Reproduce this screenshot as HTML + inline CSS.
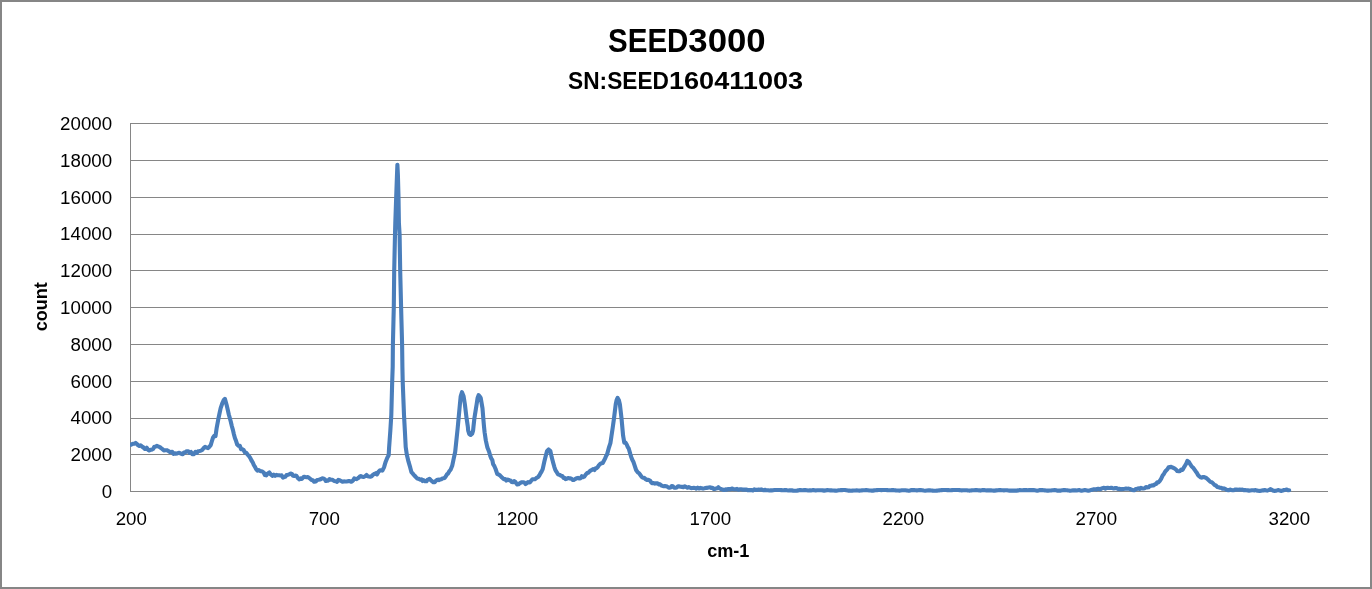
<!DOCTYPE html>
<html lang="en"><head><meta charset="utf-8"><title>SEED3000</title>
<style>html,body{margin:0;padding:0;background:#fff}body{width:1372px;height:589px;overflow:hidden}svg{display:block}text{font-family:"Liberation Sans",sans-serif;fill:#000}.b{font-weight:bold}</style></head><body>
<svg width="1372" height="589" viewBox="0 0 1372 589">
<rect x="0" y="0" width="1372" height="589" fill="#fff"/>
<rect x="1" y="1" width="1370" height="587" fill="none" stroke="#868686" stroke-width="2"/>
<g stroke="#868686" stroke-width="1" shape-rendering="crispEdges">
<line x1="130" y1="123.5" x2="1328" y2="123.5"/>
<line x1="130" y1="160.5" x2="1328" y2="160.5"/>
<line x1="130" y1="197.5" x2="1328" y2="197.5"/>
<line x1="130" y1="234.5" x2="1328" y2="234.5"/>
<line x1="130" y1="270.5" x2="1328" y2="270.5"/>
<line x1="130" y1="307.5" x2="1328" y2="307.5"/>
<line x1="130" y1="344.5" x2="1328" y2="344.5"/>
<line x1="130" y1="381.5" x2="1328" y2="381.5"/>
<line x1="130" y1="418.5" x2="1328" y2="418.5"/>
<line x1="130" y1="454.5" x2="1328" y2="454.5"/>
<line x1="130" y1="491.5" x2="1328" y2="491.5"/>
<line x1="130.5" y1="123" x2="130.5" y2="492"/>
</g>
<g font-size="17.6" text-anchor="end">
<text x="112.1" y="129.8" textLength="52.0" lengthAdjust="spacingAndGlyphs">20000</text>
<text x="112.1" y="166.8" textLength="52.0" lengthAdjust="spacingAndGlyphs">18000</text>
<text x="112.1" y="203.8" textLength="52.0" lengthAdjust="spacingAndGlyphs">16000</text>
<text x="112.1" y="239.8" textLength="52.0" lengthAdjust="spacingAndGlyphs">14000</text>
<text x="112.1" y="276.8" textLength="52.0" lengthAdjust="spacingAndGlyphs">12000</text>
<text x="112.1" y="313.8" textLength="52.0" lengthAdjust="spacingAndGlyphs">10000</text>
<text x="112.1" y="350.8" textLength="41.6" lengthAdjust="spacingAndGlyphs">8000</text>
<text x="112.1" y="387.8" textLength="41.6" lengthAdjust="spacingAndGlyphs">6000</text>
<text x="112.1" y="423.8" textLength="41.6" lengthAdjust="spacingAndGlyphs">4000</text>
<text x="112.1" y="460.8" textLength="41.6" lengthAdjust="spacingAndGlyphs">2000</text>
<text x="112.1" y="497.8" textLength="10.4" lengthAdjust="spacingAndGlyphs">0</text>
</g>
<g font-size="17.6" text-anchor="middle">
<text x="131.3" y="525" textLength="31.2" lengthAdjust="spacingAndGlyphs">200</text>
<text x="324.3" y="525" textLength="31.2" lengthAdjust="spacingAndGlyphs">700</text>
<text x="517.3" y="525" textLength="41.6" lengthAdjust="spacingAndGlyphs">1200</text>
<text x="710.3" y="525" textLength="41.6" lengthAdjust="spacingAndGlyphs">1700</text>
<text x="903.3" y="525" textLength="41.6" lengthAdjust="spacingAndGlyphs">2200</text>
<text x="1096.3" y="525" textLength="41.6" lengthAdjust="spacingAndGlyphs">2700</text>
<text x="1289.3" y="525" textLength="41.6" lengthAdjust="spacingAndGlyphs">3200</text>
</g>
<text class="b" font-size="33.5" y="51.8"><tspan x="608.1" textLength="80.25" lengthAdjust="spacingAndGlyphs">SEED</tspan><tspan x="688.35" textLength="77.3" lengthAdjust="spacingAndGlyphs">3000</tspan></text>
<text class="b" font-size="24.3" y="89.3"><tspan x="568.1" textLength="100.85" lengthAdjust="spacingAndGlyphs">SN:SEED</tspan><tspan x="668.95" textLength="134.2" lengthAdjust="spacingAndGlyphs">160411003</tspan></text>
<text class="b" x="728.3" y="556.7" font-size="17.5" text-anchor="middle" textLength="42.3" lengthAdjust="spacingAndGlyphs">cm-1</text>
<text class="b" transform="translate(47.1,306.8) rotate(-90)" font-size="17.5" text-anchor="middle" textLength="49" lengthAdjust="spacingAndGlyphs">count</text>
<clipPath id="pc"><rect x="130" y="100" width="1200" height="400"/></clipPath>
<path d="M128.6,444.8 L129.8,444.8 L131.1,444.8 L132.3,444.1 L133.4,443.8 L134.6,443.7 L135.7,442.9 L136.9,444.0 L138.1,445.2 L139.3,445.9 L140.6,445.3 L142.0,446.6 L143.4,447.4 L144.5,448.9 L145.7,449.0 L146.8,447.7 L148.0,449.7 L149.2,450.5 L150.5,449.7 L151.8,449.6 L153.1,449.0 L154.3,446.8 L155.6,446.8 L156.8,445.8 L157.9,446.4 L159.1,446.8 L160.2,447.4 L161.4,448.4 L162.6,449.2 L163.8,450.4 L165.3,450.2 L166.8,450.2 L168.4,451.0 L169.9,452.0 L171.0,452.0 L172.2,451.8 L173.3,453.8 L174.5,453.2 L175.7,453.8 L176.9,453.6 L178.1,453.0 L179.3,452.8 L180.4,453.3 L181.6,453.9 L182.8,454.2 L184.0,452.6 L185.2,452.4 L186.7,451.2 L188.3,451.2 L189.6,452.9 L191.0,452.0 L192.3,454.2 L193.9,454.1 L195.4,451.8 L196.8,452.9 L198.1,451.2 L199.5,451.0 L200.9,450.6 L202.2,450.0 L203.6,448.1 L205.1,446.9 L206.6,447.6 L208.0,448.1 L209.4,446.7 L210.7,445.1 L211.8,441.5 L213.0,437.7 L214.2,435.9 L215.5,436.1 L216.7,427.8 L218.6,417.7 L219.6,413.0 L220.6,408.4 L222.4,403.0 L223.7,400.2 L224.9,398.8 L226.7,405.3 L227.8,409.9 L228.8,414.5 L229.8,418.0 L230.8,421.8 L231.8,426.0 L232.9,429.9 L233.9,434.2 L234.9,438.0 L236.1,441.1 L237.2,444.5 L238.5,445.8 L239.8,445.7 L241.1,449.3 L242.3,449.1 L243.6,450.0 L244.9,452.5 L246.2,452.7 L247.4,454.3 L248.8,455.8 L250.2,457.9 L251.5,460.5 L252.7,462.3 L253.8,465.0 L255.0,466.9 L256.1,469.2 L257.4,470.6 L258.6,470.1 L259.9,470.8 L261.1,471.3 L262.4,471.5 L263.7,472.5 L264.9,475.0 L266.2,475.4 L267.8,473.4 L269.3,472.5 L270.8,474.5 L272.3,475.8 L273.7,474.7 L275.1,475.8 L276.4,474.9 L277.8,475.2 L279.1,475.2 L280.5,475.5 L281.7,475.4 L282.9,477.6 L284.1,477.1 L285.3,476.8 L286.5,475.1 L287.7,474.9 L289.2,474.4 L290.7,473.6 L291.9,473.9 L293.1,475.8 L294.3,476.0 L295.3,475.5 L296.3,475.7 L297.9,478.1 L299.4,479.3 L300.6,478.4 L301.8,479.0 L303.0,477.6 L304.1,476.7 L305.3,477.0 L306.5,477.2 L307.7,477.0 L308.9,477.7 L310.1,478.7 L311.5,479.9 L312.8,480.2 L314.2,481.8 L315.7,481.5 L317.2,480.0 L318.5,479.8 L319.8,479.5 L321.1,479.0 L322.3,478.4 L323.5,478.5 L324.7,479.2 L325.9,481.0 L327.1,480.6 L328.3,480.6 L329.5,479.0 L331.0,479.8 L332.6,479.8 L334.1,481.0 L335.6,481.2 L337.0,481.8 L338.3,479.9 L339.7,480.3 L341.1,481.0 L342.4,481.7 L343.8,481.4 L345.2,481.5 L346.7,481.5 L348.1,481.1 L349.6,481.0 L351.0,481.8 L352.1,481.3 L353.2,480.2 L354.2,478.4 L355.3,478.9 L356.4,479.1 L357.5,478.5 L358.6,477.8 L359.7,476.6 L360.8,476.0 L362.2,476.8 L363.6,477.0 L365.1,476.2 L366.5,475.0 L367.7,476.2 L368.9,476.5 L370.2,476.7 L371.6,476.2 L373.0,474.8 L374.0,474.0 L375.1,473.7 L376.1,473.1 L377.1,474.4 L378.5,471.7 L380.0,470.3 L381.2,470.4 L382.4,470.6 L384.0,467.4 L385.7,461.7 L387.3,457.7 L388.7,455.2 L389.1,447.7 L390.3,431.2 L391.3,415.0 L392.2,381.3 L392.7,366.9 L392.9,344.2 L393.5,319.1 L393.8,307.3 L394.2,271.0 L395.0,234.5 L395.3,223.0 L396.2,197.0 L397.0,174.9 L397.4,164.7 L397.9,175.1 L398.5,197.1 L398.9,223.1 L399.6,234.4 L400.2,271.0 L401.1,307.3 L401.4,318.9 L402.1,344.3 L402.4,367.1 L402.7,381.4 L404.0,415.0 L404.9,431.4 L405.7,447.0 L406.9,455.1 L408.5,461.7 L410.2,467.4 L411.4,472.1 L412.6,473.4 L413.8,474.8 L414.9,476.0 L415.9,477.1 L417.1,478.4 L418.3,478.7 L419.3,479.2 L420.4,479.8 L421.5,479.4 L422.5,481.0 L423.6,480.2 L425.1,481.2 L426.5,481.3 L427.5,479.9 L428.5,479.4 L429.6,478.8 L430.6,479.9 L432.0,481.2 L433.4,482.3 L434.7,482.2 L435.9,480.7 L437.0,480.0 L438.1,479.6 L439.1,480.1 L440.2,479.4 L441.3,479.2 L442.4,478.5 L443.5,478.3 L444.6,477.9 L445.7,476.5 L446.9,474.4 L448.1,473.5 L449.3,471.3 L450.6,469.7 L452.2,465.8 L453.6,459.1 L455.2,451.7 L456.4,440.3 L457.6,428.9 L458.6,418.3 L459.9,404.4 L460.7,396.3 L462.0,392.2 L463.6,396.2 L464.9,404.5 L466.6,418.4 L467.8,426.4 L468.2,430.6 L469.3,434.0 L470.7,435.0 L472.1,433.8 L473.1,430.6 L473.5,426.5 L474.4,418.3 L475.5,411.4 L476.6,404.5 L477.6,397.9 L478.6,395.2 L479.7,396.4 L480.7,397.9 L482.5,408.4 L483.3,418.3 L484.0,426.5 L484.6,432.2 L485.8,440.4 L487.4,447.6 L489.1,451.8 L490.3,456.0 L491.3,458.6 L492.3,459.9 L493.1,464.1 L494.4,466.2 L495.6,469.0 L497.3,474.1 L498.6,474.5 L499.8,475.3 L500.9,476.4 L502.0,477.6 L503.1,478.6 L504.1,479.1 L505.2,479.0 L506.3,480.6 L507.8,479.5 L509.2,480.2 L510.4,480.5 L511.6,482.0 L512.9,482.2 L514.1,481.1 L515.2,481.7 L516.3,483.4 L517.3,484.5 L518.4,484.3 L519.5,483.4 L520.6,482.7 L521.8,482.3 L523.1,482.3 L524.3,482.5 L525.5,484.0 L526.7,483.2 L528.0,482.0 L529.0,482.5 L530.0,482.2 L531.2,480.7 L532.4,479.4 L533.9,479.3 L535.3,479.1 L536.7,477.8 L538.2,476.9 L539.4,475.4 L540.6,473.0 L541.6,471.5 L542.7,469.1 L544.3,461.7 L545.9,455.2 L547.1,450.9 L548.6,449.5 L550.4,451.1 L551.6,456.8 L553.3,463.2 L554.3,466.8 L555.3,469.9 L556.5,471.8 L557.8,474.1 L558.8,474.6 L559.9,475.0 L561.0,475.7 L562.2,475.9 L563.5,477.9 L564.6,477.9 L565.6,479.1 L566.7,478.7 L568.0,478.0 L569.2,478.4 L570.4,478.2 L571.5,478.8 L572.6,479.9 L573.7,480.0 L575.1,479.1 L576.5,478.3 L578.0,477.9 L579.4,478.5 L580.6,478.2 L581.8,476.2 L583.1,477.1 L584.3,476.6 L585.7,474.6 L587.1,473.0 L588.4,472.7 L589.6,471.4 L590.8,470.4 L592.0,469.9 L593.3,469.0 L594.5,470.0 L595.6,468.2 L596.7,468.1 L597.8,467.0 L599.0,465.1 L600.2,463.9 L601.4,463.3 L602.7,463.0 L603.9,460.7 L605.1,458.6 L606.1,456.0 L607.1,454.4 L608.8,448.0 L610.4,443.1 L611.4,436.5 L612.7,427.7 L614.0,418.4 L615.7,404.4 L616.6,400.1 L617.6,397.9 L618.9,400.3 L619.9,404.4 L621.5,418.3 L623.1,435.7 L624.3,442.6 L625.5,442.5 L626.7,444.5 L627.8,447.1 L628.8,448.7 L630.4,454.4 L631.4,457.5 L632.4,460.1 L633.5,462.1 L634.5,465.2 L636.1,470.0 L637.6,472.2 L639.0,473.1 L640.2,474.8 L641.5,476.7 L642.8,477.8 L644.2,477.9 L645.6,479.1 L647.0,479.9 L648.4,479.8 L649.9,480.5 L651.4,482.7 L652.6,483.3 L653.7,483.1 L654.9,483.6 L656.0,483.3 L657.6,483.4 L659.1,484.5 L660.2,484.4 L661.4,485.5 L662.5,485.9 L663.7,486.3 L664.8,486.0 L666.0,486.3 L667.1,486.6 L668.3,487.4 L669.4,487.7 L670.6,487.5 L671.7,486.1 L672.9,486.3 L674.1,487.8 L675.4,487.7 L676.7,487.4 L678.0,486.2 L679.3,486.4 L680.7,486.7 L682.0,486.9 L683.4,487.1 L684.8,486.3 L686.1,487.0 L687.4,487.7 L688.7,487.0 L689.9,487.6 L691.2,488.1 L692.5,488.0 L693.8,487.9 L695.1,488.0 L696.3,488.6 L697.7,487.7 L699.0,488.5 L700.4,487.9 L701.8,488.2 L703.1,488.6 L704.5,488.3 L705.9,487.9 L707.3,487.9 L708.7,487.5 L710.1,487.4 L711.2,488.0 L712.4,487.7 L713.5,488.9 L714.7,488.9 L715.9,488.6 L717.1,488.2 L718.3,487.2 L719.5,488.4 L720.8,489.0 L722.1,489.4 L723.4,489.9 L724.5,490.0 L725.7,489.4 L726.8,489.7 L728.0,489.1 L729.2,489.0 L730.5,489.1 L731.8,488.5 L733.1,489.0 L734.4,489.3 L735.7,489.3 L737.0,488.9 L738.4,489.8 L739.7,489.3 L741.1,489.2 L742.5,489.6 L743.9,489.6 L745.3,489.6 L746.5,489.5 L747.8,490.3 L749.0,490.0 L750.2,490.1 L751.4,490.1 L752.9,490.5 L754.3,489.3 L755.7,489.9 L757.1,489.9 L758.6,489.5 L759.8,489.7 L761.1,489.4 L762.4,489.8 L763.7,490.3 L764.8,489.8 L765.9,490.2 L767.0,490.2 L768.2,490.3 L769.4,490.5 L770.6,490.4 L771.7,490.4 L773.1,490.2 L774.4,490.0 L775.9,490.0 L777.3,490.0 L778.7,490.0 L780.1,490.0 L781.3,490.1 L782.5,490.3 L783.6,490.2 L784.7,490.1 L785.8,490.0 L787.1,490.3 L788.3,490.5 L789.5,490.4 L790.7,490.4 L791.9,490.4 L793.2,490.6 L794.6,490.7 L795.8,490.7 L796.9,490.6 L798.2,490.4 L799.5,490.1 L800.7,490.1 L801.9,490.2 L803.0,490.2 L804.1,490.1 L805.2,490.1 L806.7,490.3 L808.2,490.5 L809.6,490.4 L810.9,490.4 L812.1,490.2 L813.2,490.0 L814.5,490.2 L815.7,490.5 L817.1,490.3 L818.5,490.2 L820.0,490.3 L821.5,490.3 L822.8,490.4 L824.1,490.6 L825.7,490.4 L827.3,490.1 L828.8,490.3 L830.3,490.4 L831.5,490.4 L832.6,490.5 L833.8,490.5 L835.1,490.6 L836.4,490.7 L837.5,490.5 L838.7,490.3 L839.8,490.2 L840.9,490.1 L842.0,490.1 L843.4,490.0 L844.9,490.0 L846.4,490.3 L848.0,490.6 L849.5,490.6 L851.0,490.7 L852.3,490.6 L853.6,490.5 L855.2,490.5 L856.7,490.4 L858.1,490.5 L859.5,490.6 L860.7,490.5 L861.9,490.4 L863.0,490.3 L864.6,490.2 L866.2,490.0 L867.8,490.2 L869.4,490.5 L870.5,490.5 L871.7,490.6 L872.9,490.6 L874.2,490.4 L875.5,490.3 L877.1,490.1 L878.7,490.0 L880.1,490.0 L881.5,490.1 L882.7,490.0 L883.9,490.0 L885.0,490.0 L886.1,490.0 L887.2,490.1 L888.4,490.2 L889.7,490.3 L890.8,490.2 L892.0,490.1 L893.1,490.0 L894.5,490.2 L896.0,490.4 L897.1,490.5 L898.2,490.5 L899.4,490.6 L900.5,490.5 L901.7,490.3 L902.8,490.2 L904.2,490.2 L905.6,490.2 L906.7,490.4 L907.9,490.6 L909.0,490.7 L910.2,490.4 L911.4,490.1 L912.7,490.1 L914.0,490.1 L915.4,490.3 L916.8,490.4 L918.1,490.2 L919.4,490.0 L920.8,490.1 L922.2,490.2 L923.7,490.5 L925.2,490.7 L926.8,490.5 L928.4,490.4 L929.9,490.4 L931.4,490.5 L932.6,490.6 L933.7,490.7 L934.8,490.7 L935.9,490.7 L937.0,490.6 L938.1,490.5 L939.2,490.4 L940.3,490.3 L941.7,490.1 L943.1,490.0 L944.6,490.0 L946.1,490.0 L947.3,490.1 L948.4,490.1 L949.7,490.2 L950.9,490.2 L952.0,490.1 L953.1,490.0 L954.4,490.0 L955.6,490.0 L956.9,490.0 L958.3,490.0 L959.4,490.1 L960.5,490.3 L961.7,490.4 L962.9,490.3 L964.1,490.2 L965.4,490.2 L966.8,490.2 L968.0,490.4 L969.2,490.6 L970.4,490.5 L971.5,490.4 L972.7,490.3 L974.2,490.2 L975.6,490.0 L976.8,490.1 L978.0,490.2 L979.3,490.4 L980.5,490.6 L981.7,490.3 L983.0,490.0 L984.1,490.1 L985.3,490.2 L986.5,490.4 L987.7,490.4 L988.9,490.4 L990.0,490.4 L991.1,490.4 L992.3,490.5 L993.5,490.6 L994.7,490.6 L996.3,490.4 L997.9,490.2 L999.2,490.1 L1000.6,490.1 L1001.7,490.2 L1002.8,490.3 L1003.9,490.4 L1005.0,490.3 L1006.1,490.3 L1007.2,490.2 L1008.4,490.4 L1009.7,490.6 L1010.9,490.6 L1012.1,490.6 L1013.3,490.6 L1014.4,490.6 L1015.5,490.6 L1016.6,490.6 L1018.2,490.4 L1019.8,490.1 L1021.3,490.2 L1022.7,490.2 L1023.9,490.1 L1025.0,490.0 L1026.3,490.1 L1027.6,490.2 L1029.2,490.1 L1030.7,490.1 L1032.2,490.1 L1033.6,490.1 L1034.8,490.3 L1036.0,490.5 L1037.2,490.7 L1038.5,490.4 L1039.9,490.1 L1041.1,490.1 L1042.4,490.1 L1043.6,490.3 L1044.9,490.4 L1046.0,490.5 L1047.2,490.6 L1048.3,490.6 L1049.8,490.5 L1051.2,490.5 L1052.3,490.3 L1053.4,490.2 L1054.5,490.0 L1056.1,490.3 L1057.6,490.7 L1058.7,490.6 L1059.8,490.6 L1060.9,490.6 L1062.4,490.3 L1063.8,490.1 L1064.9,490.1 L1066.0,490.2 L1067.1,490.2 L1068.2,490.4 L1069.3,490.6 L1070.4,490.7 L1071.8,490.5 L1073.2,490.3 L1074.4,490.4 L1075.5,490.4 L1076.7,490.5 L1077.9,490.3 L1079.2,490.1 L1080.4,490.4 L1081.6,490.7 L1082.7,490.5 L1083.8,490.3 L1084.9,490.1 L1086.0,490.3 L1087.1,490.5 L1088.3,490.7 L1089.6,490.4 L1091.0,490.1 L1092.4,489.8 L1093.8,489.2 L1095.2,489.3 L1096.4,489.6 L1097.7,488.8 L1098.9,488.9 L1100.1,489.3 L1101.3,488.7 L1102.6,488.1 L1103.9,487.7 L1105.2,488.7 L1106.4,488.1 L1107.7,487.8 L1108.9,488.0 L1110.1,488.0 L1111.3,487.7 L1112.6,488.2 L1113.8,488.4 L1115.1,488.1 L1116.4,488.0 L1117.7,488.9 L1119.1,488.7 L1120.5,489.2 L1121.9,489.1 L1123.4,489.0 L1124.8,488.8 L1126.1,488.5 L1127.3,488.7 L1128.6,488.6 L1129.9,489.0 L1131.4,489.6 L1133.0,490.2 L1134.3,490.3 L1135.7,489.0 L1137.0,488.9 L1138.3,488.3 L1139.6,488.9 L1140.9,487.8 L1142.1,488.4 L1143.4,488.5 L1144.7,488.3 L1146.0,487.1 L1147.2,487.4 L1148.6,487.2 L1150.0,485.8 L1151.3,485.8 L1152.6,485.2 L1153.8,485.4 L1155.0,484.2 L1156.1,484.0 L1157.3,482.3 L1158.4,482.4 L1159.6,481.1 L1161.1,478.8 L1162.7,475.4 L1163.8,474.2 L1165.0,471.8 L1166.2,470.4 L1167.4,469.3 L1168.6,467.3 L1169.8,467.1 L1171.2,466.9 L1172.5,467.5 L1173.9,468.1 L1175.0,468.7 L1176.2,469.8 L1177.3,471.1 L1178.5,471.3 L1179.8,471.3 L1181.2,469.6 L1182.6,469.9 L1183.8,467.6 L1185.1,465.5 L1186.3,463.5 L1187.4,460.8 L1188.8,461.8 L1190.2,464.2 L1191.7,466.5 L1193.3,467.8 L1194.5,469.6 L1195.6,471.2 L1196.8,472.8 L1198.0,475.0 L1199.2,476.2 L1200.4,477.2 L1201.6,477.6 L1202.7,477.0 L1203.9,477.1 L1205.0,477.4 L1206.4,478.1 L1207.7,479.2 L1209.1,480.6 L1210.4,481.9 L1211.8,482.3 L1213.2,483.5 L1214.5,485.0 L1215.9,485.5 L1217.2,486.9 L1218.6,487.2 L1220.0,487.8 L1221.3,487.9 L1222.6,488.8 L1223.9,488.4 L1225.2,488.9 L1226.4,489.7 L1227.7,490.1 L1228.9,490.2 L1230.1,489.6 L1231.3,489.9 L1232.6,490.2 L1234.0,490.1 L1235.4,489.5 L1236.8,489.6 L1238.2,489.7 L1239.6,489.5 L1241.0,489.8 L1242.4,489.6 L1243.8,490.2 L1245.1,490.1 L1246.4,490.2 L1247.8,490.4 L1249.1,490.6 L1250.4,490.5 L1251.7,490.3 L1253.1,490.3 L1254.4,490.4 L1255.7,490.1 L1257.0,490.6 L1258.3,490.7 L1259.6,491.0 L1260.9,490.7 L1262.1,490.4 L1263.4,490.5 L1264.7,490.0 L1266.0,490.4 L1267.2,490.6 L1268.8,490.1 L1270.3,489.1 L1271.8,489.9 L1273.4,490.8 L1274.6,490.9 L1275.9,490.8 L1277.2,490.4 L1278.5,490.0 L1279.8,490.6 L1281.2,490.9 L1282.6,490.6 L1284.1,490.0 L1285.6,489.8 L1286.8,489.5 L1288.0,490.2 L1289.2,490.2" clip-path="url(#pc)" fill="none" stroke="#4a7ebb" stroke-width="4.1" stroke-linejoin="round" stroke-linecap="round"/>
</svg></body></html>
